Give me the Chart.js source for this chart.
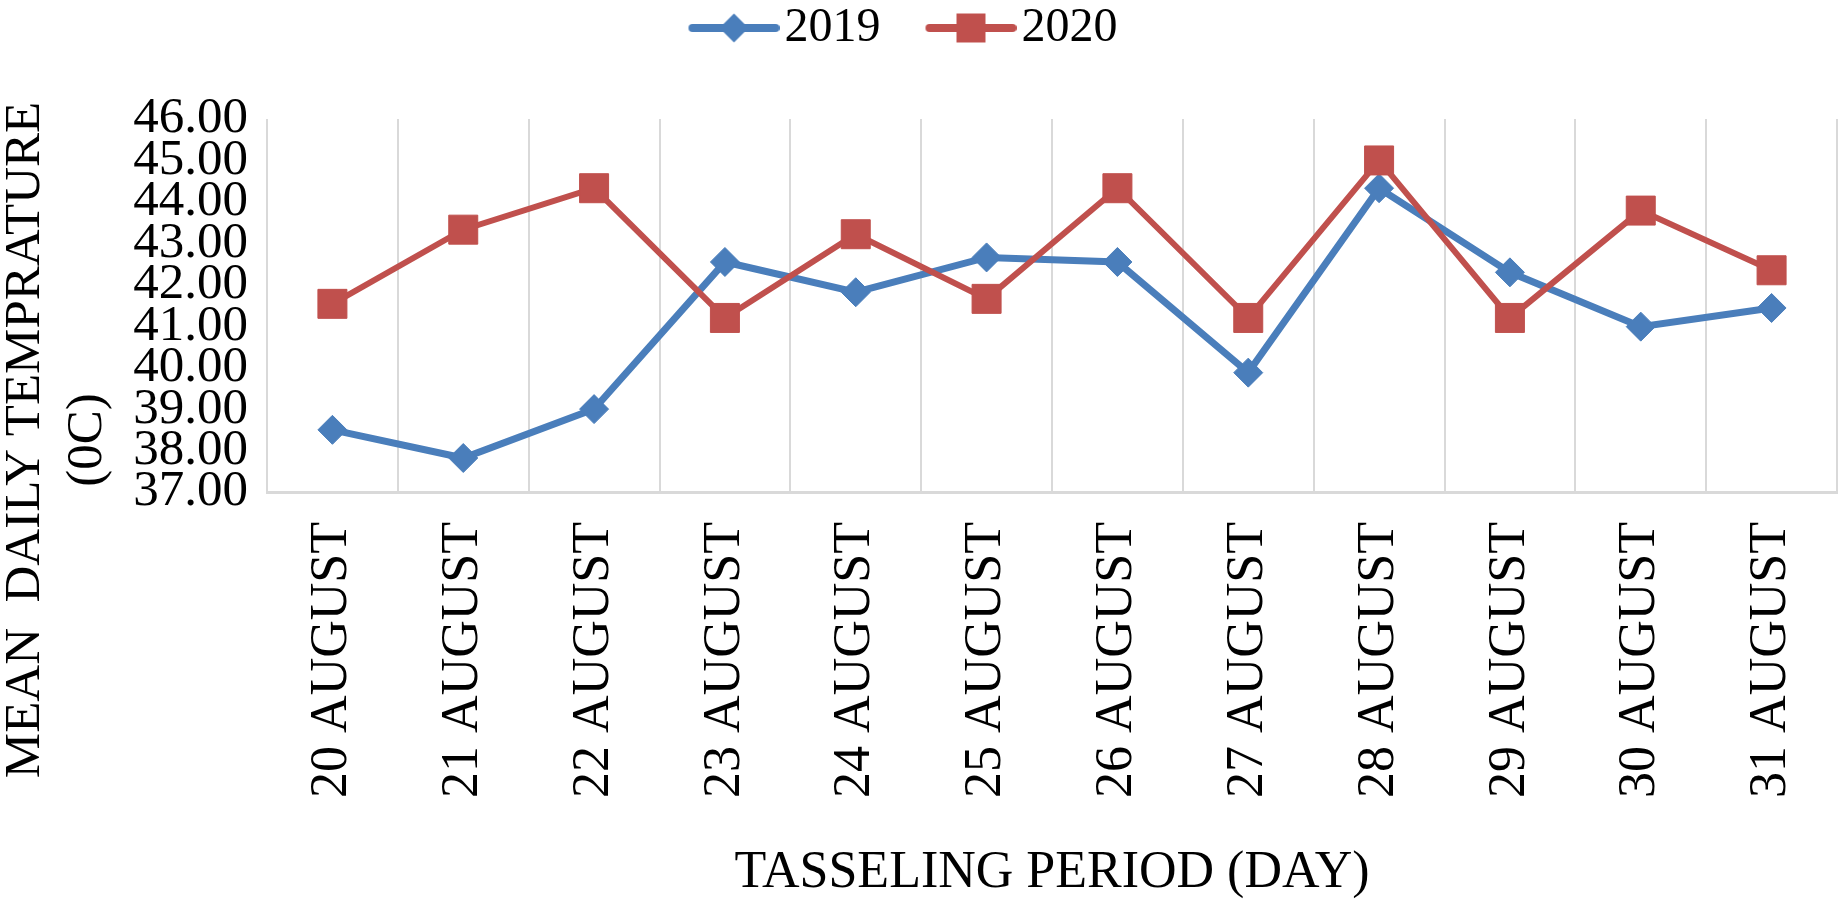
<!DOCTYPE html>
<html>
<head>
<meta charset="utf-8">
<title>Mean daily temperature - tasseling period</title>
<script src="https://cdn.jsdelivr.net/npm/chart.js@4.4.1/dist/chart.umd.min.js"></script>
<style>
  html, body { margin: 0; padding: 0; background: #fff; }
  .chart-wrap { width: 1839px; height: 901px; position: relative; }
</style>
</head>
<body>
<div class="chart-wrap"><canvas id="tempChart"></canvas></div>
<script>
// data
const days = ["20 AUGUST", "21 AUGUST", "22 AUGUST", "23 AUGUST", "24 AUGUST", "25 AUGUST",
  "26 AUGUST", "27 AUGUST", "28 AUGUST", "29 AUGUST", "30 AUGUST", "31 AUGUST"];
const temp2019 = [38.50, 37.82, 39.00, 42.55, 41.82, 42.66, 42.55, 39.88, 44.33, 42.30, 40.99, 41.44];
const temp2020 = [41.54, 43.33, 44.33, 41.20, 43.22, 41.66, 44.33, 41.20, 45.00, 41.20, 43.79, 42.35];
const seriesNames = ["2019", "2020"];
const yRange = [37, 46];
const yStep = 1;
const yTitle = ["MEAN  DAILY TEMPRATURE", "(0C)"];
const xTitle = "TASSELING PERIOD (DAY)";

const blue = "#4A7EBB";
const red = "#C0504D";
const serif = "'Liberation Serif', 'Times New Roman', serif";

// legend icon: line with the marker in the middle
function legendIcon(color, shape) {
  const c = document.createElement("canvas");
  c.width = 115;
  c.height = 40;
  const ctx = c.getContext("2d");
  ctx.strokeStyle = color;
  ctx.fillStyle = color;
  ctx.lineWidth = 8;
  ctx.lineCap = "round";
  ctx.beginPath();
  ctx.moveTo(28, 20);
  ctx.lineTo(111, 20);
  ctx.stroke();
  ctx.beginPath();
  if (shape === "diamond") {
    ctx.moveTo(69.5, 5.5);
    ctx.lineTo(84, 20);
    ctx.lineTo(69.5, 34.5);
    ctx.lineTo(55, 20);
    ctx.closePath();
  } else {
    ctx.rect(55, 5.5, 29, 29);
  }
  ctx.fill();
  return c;
}
const icons = [legendIcon(blue, "diamond"), legendIcon(red, "square")];

// push the plot area down under the legend
const legendGap = {
  id: "legendGap",
  beforeInit(chart) {
    const fit = chart.legend.fit;
    chart.legend.fit = function () {
      fit.bind(chart.legend)();
      this.height += 57;
    };
  },
};

// two line y title, centred on the whole figure height like the original
const yAxisTitle = {
  id: "yAxisTitle",
  afterDraw(chart) {
    const ctx = chart.ctx;
    ctx.save();
    ctx.font = "51px " + serif;
    ctx.fillStyle = "#000";
    ctx.textAlign = "center";
    ctx.textBaseline = "middle";
    ctx.translate(0, 440);
    ctx.rotate(-Math.PI / 2);
    ctx.fillText(yTitle[0], 0, 26);
    ctx.fillText(yTitle[1], 0, 88);
    ctx.restore();
  },
};

new Chart(document.getElementById("tempChart"), {
  type: "line",
  data: {
    labels: days,
    datasets: [
      {
        label: seriesNames[0],
        data: temp2019,
        borderColor: blue,
        backgroundColor: blue,
        borderWidth: 7,
        pointStyle: "rectRot",
        pointRadius: 14.5,
        pointHoverRadius: 14.5,
        pointBorderWidth: 1,
        tension: 0,
        order: 1,
      },
      {
        label: seriesNames[1],
        data: temp2020,
        borderColor: red,
        backgroundColor: red,
        borderWidth: 6,
        pointStyle: "rect",
        pointRadius: 20.5,
        pointHoverRadius: 20.5,
        pointBorderWidth: 1,
        tension: 0,
        order: 0,
      },
    ],
  },
  options: {
    responsive: true,
    maintainAspectRatio: false,
    animation: false,
    layout: { autoPadding: false, padding: { left: 0, right: 2, top: 0, bottom: 0 } },
    plugins: {
      legend: {
        position: "top",
        labels: {
          usePointStyle: true,
          pointStyleWidth: 77,
          padding: 4,
          color: "#000",
          font: { family: serif, size: 48 },
          sort: (a, b) => a.datasetIndex - b.datasetIndex,
          generateLabels(chart) {
            const items = Chart.defaults.plugins.legend.labels.generateLabels(chart);
            items.forEach((item) => {
              item.pointStyle = icons[item.datasetIndex];
              item.text = item.text + "   ";
            });
            return items;
          },
        },
      },
      tooltip: { enabled: false },
    },
    scales: {
      x: {
        offset: true,
        afterFit: (scale) => {
          scale.height = 409;
          scale.paddingLeft = 0;
          scale.paddingRight = 0;
        },
        grid: {
          offset: true,
          color: "#D9D9D9",
          lineWidth: 2,
          drawTicks: true,
          tickLength: 27,
          tickColor: "rgba(0,0,0,0)",
        },
        border: { color: "#D9D9D9", width: 3 },
        ticks: {
          color: "#000",
          font: { family: serif, size: 52 },
          minRotation: 90,
          maxRotation: 90,
          autoSkip: false,
          padding: 3,
        },
        title: {
          display: true,
          text: xTitle,
          color: "#000",
          font: { family: serif, size: 52 },
          padding: { top: 10, bottom: -4 },
        },
      },
      y: {
        min: yRange[0],
        max: yRange[1],
        afterFit: (scale) => {
          scale.width = 267;
        },
        grid: { display: false, drawTicks: false },
        border: { display: false },
        ticks: {
          stepSize: yStep,
          autoSkip: false,
          color: "#000",
          font: { family: serif, size: 51 },
          padding: 19,
          callback: (v) => v.toFixed(2),
        },
      },
    },
  },
  plugins: [legendGap, yAxisTitle],
});
</script>
</body>
</html>
